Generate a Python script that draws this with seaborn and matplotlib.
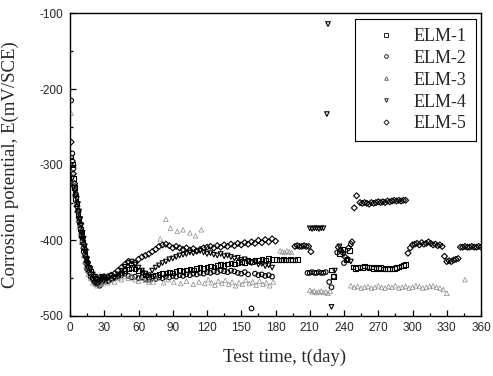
import matplotlib
matplotlib.use('Agg')
import matplotlib.pyplot as plt
import pandas as pd
import seaborn as sns
from matplotlib.font_manager import FontProperties
from matplotlib.lines import Line2D
from matplotlib.ticker import MultipleLocator

# values (day, mV vs SCE)
early_days = [1, 2, 3, 4, 5, 6, 7, 8, 9, 10, 11, 12, 13, 14, 15, 16, 18, 20, 22, 24, 26, 28, 30]
mid_days = [33, 36, 39, 42, 45, 48, 51, 54, 57, 60, 63, 66, 69, 72, 75, 78, 81, 84, 87, 90,
            93, 96, 99, 102, 105, 108, 111, 114, 117, 120, 123, 126, 129, 132, 135, 138, 141, 144, 147, 150,
            153, 156, 159, 162, 165, 168, 171, 174, 177]

elm1_days = (early_days + mid_days
             + [181, 183, 185, 187, 189, 191, 193, 195, 197, 199]
             + [229, 231, 236, 239, 242, 245, 248]
             + [250, 252, 254, 256, 258, 260, 262, 264, 266, 268, 270, 272, 274, 276, 278, 280, 282, 284,
                286, 288, 290, 292, 294])
elm1_e = ([-290, -300, -318, -330, -345, -352, -365, -372, -385, -392, -402, -410, -418, -425, -430, -436,
           -441, -447, -450, -454, -455, -452, -451]
          + [-452, -449, -447, -446, -443, -440, -438, -436, -438, -440, -442, -446, -448, -447, -446, -445,
             -444, -443, -442, -443, -441, -440, -441, -439, -438, -439, -437, -436, -437, -435, -434, -435,
             -433, -432, -433, -431, -430, -431, -429, -428, -429, -427, -428, -426, -427, -425, -426, -424,
             -425]
          + [-425, -426, -426, -425, -426, -426, -425, -426, -426, -425]
          + [-439, -448, -417, -412, -426, -413, -435]
          + [-437, -436, -435, -436, -434, -435, -436, -435, -437, -436, -437, -436, -438, -437, -438, -437,
             -438, -437, -436, -435, -434, -433, -432])

elm2_days = (early_days + mid_days
             + [208, 210, 212, 214, 216, 218, 220, 222, 224]
             + [227, 229, 231, 234, 237, 240, 243, 246])
elm2_e = ([-215, -285, -305, -328, -338, -350, -360, -375, -380, -395, -400, -415, -420, -430, -438, -440,
           -448, -452, -456, -458, -460, -455, -453]
          + [-454, -451, -449, -448, -446, -444, -447, -449, -448, -450, -449, -451, -452, -450, -451, -449,
             -450, -448, -449, -447, -448, -446, -447, -445, -446, -444, -445, -443, -444, -442, -443, -441,
             -442, -440, -441, -442, -440, -441, -443, -444, -442, -445, -490, -444, -446, -445, -447, -446,
             -448]
          + [-443, -443, -442, -443, -443, -442, -443, -443, -442]
          + [-455, -462, -448, -416, -413, -430, -425, -405])

elm3_days = (early_days
             + [33, 36, 39, 42, 45, 48, 51, 54, 57, 60, 63, 66, 69]
             + [70, 73, 76, 79, 82, 84, 86, 88, 91, 94, 97, 99, 102, 105, 108, 110, 113, 115, 118, 121,
                124, 127, 130, 133, 136, 139, 142, 145, 148, 151, 154, 157, 160, 163, 166, 169, 172, 175, 178]
             + [184, 186, 188, 190, 192, 194]
             + [210, 212, 214, 216, 218, 220, 222, 224, 226, 228]
             + [246, 249, 252, 255, 258, 261, 264, 267, 270, 273, 276, 279, 282, 285, 288, 291, 294, 297,
                300, 303, 306, 309, 312, 315, 318, 321, 324, 327, 330]
             + [346])
elm3_e = ([-232, -310, -322, -340, -348, -360, -372, -382, -390, -402, -408, -420, -428, -433, -440, -445,
           -450, -456, -458, -460, -457, -458, -455]
          + [-456, -453, -455, -450, -452, -448, -450, -447, -452, -454, -450, -453, -455]
          + [-452, -455, -450, -398, -456, -372, -452, -384, -455, -388, -457, -386, -454, -390, -458, -394,
             -455, -386, -457, -452, -456, -459, -454, -457, -453, -458, -455, -460, -456, -458, -453, -457,
             -455, -459, -454, -458, -456, -460, -455]
          + [-414, -415, -416, -414, -415, -416]
          + [-466, -468, -467, -469, -468, -467, -469, -468, -470, -467]
          + [-460, -462, -461, -463, -462, -461, -463, -462, -460, -462, -463, -461, -462, -460, -463, -462,
             -461, -463, -462, -460, -461, -463, -462, -461, -460, -462, -463, -465, -470]
          + [-452])

elm4_days = (early_days + mid_days
             + [210, 212, 214, 216, 218, 220, 222]
             + [225, 226, 229, 232, 236, 240, 243, 246])
elm4_e = ([-300, -318, -330, -335, -342, -345, -352, -362, -372, -380, -390, -398, -408, -415, -425, -432,
           -438, -445, -448, -452, -450, -448, -450]
          + [-450, -447, -450, -445, -440, -435, -430, -428, -432, -436, -440, -444, -446, -440, -436, -433,
             -430, -428, -425, -424, -422, -420, -419, -418, -416, -417, -415, -414, -416, -418, -417, -419,
             -420, -418, -421, -420, -422, -424, -423, -426, -425, -428, -430, -429, -432, -431, -434, -433,
             -436]
          + [-384, -385, -384, -384, -385, -384, -384]
          + [-233, -114, -488, -440, -408, -418, -426, -428])

elm5_days = (early_days + mid_days + [180]
             + [197, 199, 201, 203, 205, 207, 209, 211]
             + [235, 238, 241, 244, 247, 249, 251]
             + [254, 256, 258, 260, 262, 264, 266, 268, 270, 272, 274, 276, 278, 280, 282, 284, 286, 288,
                290, 292, 294]
             + [296, 298, 300, 302, 304, 306, 308, 310, 312, 314, 316, 318, 320, 322, 324, 326]
             + [328, 330, 332, 334, 336, 338, 340]
             + [342, 344, 346, 348, 350, 352, 354, 356, 358, 360])
elm5_e = ([-270, -295, -312, -325, -340, -355, -362, -370, -378, -388, -396, -405, -412, -422, -428, -435,
           -444, -450, -455, -456, -453, -450, -448]
          + [-448, -446, -444, -440, -436, -432, -428, -432, -430, -425, -422, -420, -418, -415, -412, -408,
             -406, -405, -407, -410, -408, -410, -412, -410, -413, -411, -414, -412, -410, -409, -408, -410,
             -407, -409, -406, -408, -405, -407, -404, -406, -403, -405, -402, -404, -400, -403, -399, -402,
             -398, -401]
          + [-408, -407, -408, -408, -407, -408, -408, -415]
          + [-409, -415, -422, -410, -402, -357, -341]
          + [-350, -351, -350, -351, -352, -350, -351, -350, -349, -350, -349, -350, -348, -349, -348, -347,
             -348, -347, -348, -347, -347]
          + [-417, -410, -406, -405, -404, -406, -403, -405, -404, -402, -404, -406, -405, -407, -406, -408]
          + [-421, -428, -427, -428, -426, -425, -424]
          + [-409, -409, -408, -409, -409, -408, -409, -409, -408, -409])

labels = ['ELM-1', 'ELM-2', 'ELM-3', 'ELM-4', 'ELM-5']
markers = ['s', 'o', '^', 'v', 'D']
x_ticks = [0, 30, 60, 90, 120, 150, 180, 210, 240, 270, 300, 330, 360]
y_ticks = [-500, -400, -300, -200, -100]


def build_frame():
    parts = []
    for name, days, vals in zip(labels,
                                [elm1_days, elm2_days, elm3_days, elm4_days, elm5_days],
                                [elm1_e, elm2_e, elm3_e, elm4_e, elm5_e]):
        parts.append(pd.DataFrame({'day': days, 'E': vals, 'series': name}))
    return pd.concat(parts, ignore_index=True)


def main():
    df = build_frame()

    sns.set_style('ticks')
    plt.rcParams['font.family'] = ['Liberation Sans', 'DejaVu Sans']
    plt.rcParams['axes.unicode_minus'] = False

    fig = plt.figure(figsize=(4.93, 3.76), dpi=100)
    ax = fig.add_axes([0.142, 0.1596, 0.8337, 0.8045])

    handles = []
    for name, mk in zip(labels, markers):
        sub = df[df['series'] == name]
        faint = name == 'ELM-3'
        ec = '#8a8a8a' if faint else 'black'
        size = 9 if mk == 'D' else 11
        sns.scatterplot(data=sub, x='day', y='E', marker=mk, s=size, ax=ax,
                        facecolor='none', edgecolor=ec,
                        linewidth=0.5 if faint else 0.8, legend=False)
        handles.append(Line2D([], [], marker=mk, linestyle='none', markersize=2.6,
                              markerfacecolor='none', markeredgecolor='#555555' if faint else 'black',
                              markeredgewidth=0.6, label=name))

    ax.set_xlim(0, 360)
    ax.set_ylim(-500, -100)
    ax.set_xticks(x_ticks)
    ax.set_yticks(y_ticks)
    ax.xaxis.set_minor_locator(MultipleLocator(15))
    ax.yaxis.set_minor_locator(MultipleLocator(50))
    ax.tick_params(which='both', direction='in', top=False, right=False, width=0.9, color='black')
    ax.tick_params(which='major', length=4.5)
    ax.tick_params(which='minor', length=2.5)
    ax.tick_params(axis='x', pad=4, labelsize=8.5)
    ax.tick_params(axis='y', pad=5, labelsize=8.5)
    for sp in ax.spines.values():
        sp.set_visible(True)
        sp.set_linewidth(1.0)
        sp.set_color('black')

    serif = FontProperties(family=['Liberation Serif', 'DejaVu Serif'], size=13.5)
    ax.set_xlabel('Test time, t(day)', fontproperties=serif)
    ax.set_ylabel('Corrosion potential, E(mV/SCE)', fontproperties=serif)
    ax.xaxis.set_label_coords(0.523, -0.108)
    ax.yaxis.set_label_coords(-0.125, 0.5)

    leg = ax.legend(handles=handles, loc='upper right',
                    prop=FontProperties(family=['Liberation Serif', 'DejaVu Serif'], size=13),
                    frameon=True, fancybox=False, edgecolor='black', framealpha=1,
                    borderaxespad=0.3, borderpad=0.5, labelspacing=0.27,
                    handlelength=2.5, handletextpad=0.25, numpoints=1)
    leg.get_frame().set_linewidth(0.8)

    fig.savefig('out.png', dpi=100)


if __name__ == '__main__':
    main()
